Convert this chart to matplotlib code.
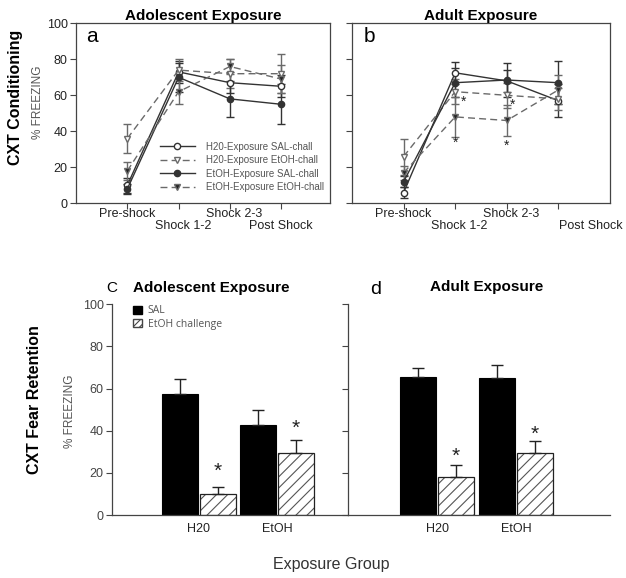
import matplotlib
matplotlib.use("Agg")
import matplotlib.pyplot as plt
import matplotlib.transforms as mtransforms
from matplotlib.patches import Patch
from matplotlib.lines import Line2D
import numpy as np

plt.rcParams['font.family'] = ['Liberation Sans', 'DejaVu Sans']
plt.rcParams['hatch.linewidth'] = 0.8

# ---------------- data ----------------
phases = ["Pre-shock", "Shock 1-2", "Shock 2-3", "Post Shock"]
series_names = ["H20-Exposure SAL-chall", "H20-Exposure EtOH-chall",
                "EtOH-Exposure SAL-chall", "EtOH-Exposure EtOH-chall"]

adol_h20_sal = [10, 73, 67, 65]
adol_h20_sal_err = [4, 6, 6, 6]
adol_h20_etoh = [36, 74, 72, 72]
adol_h20_etoh_err = [8, 6, 8, 11]
adol_etoh_sal = [8, 70, 58, 55]
adol_etoh_sal_err = [3, 8, 10, 11]
adol_etoh_etoh = [18, 62, 76, 69]
adol_etoh_etoh_err = [5, 7, 4, 8]

adult_h20_sal = [6, 72.5, 68, 57]
adult_h20_sal_err = [3, 6, 6, 9]
adult_h20_etoh = [26, 62, 60, 58]
adult_h20_etoh_err = [10, 7, 7, 6]
adult_etoh_sal = [12, 67, 68.5, 67]
adult_etoh_sal_err = [3, 8, 9.5, 12]
adult_etoh_etoh = [17, 48, 46, 63]
adult_etoh_etoh_err = [4, 11, 8.4, 8]

groups = ["H20", "EtOH"]
retention_labels = ["SAL", "EtOH challenge"]
adol_sal = [57.3, 42.7]
adol_sal_err = [7.2, 7.1]
adol_etoh = [9.8, 29.4]
adol_etoh_err = [3.6, 6.2]
adult_sal = [65.6, 65.2]
adult_sal_err = [4.4, 6.1]
adult_etoh = [18.2, 29.4]
adult_etoh_err = [5.4, 5.7]

W, H = 626, 578
fig = plt.figure(figsize=(W / 100, H / 100), dpi=100)


def frac(x0, y0, x1, y1):
    return [x0 / W, 1 - y1 / H, (x1 - x0) / W, (y1 - y0) / H]


SOLID = '#333333'
DASH = '#6a6a6a'
styles = [
    dict(color=SOLID, ls='-', marker='o', mfc='white'),
    dict(color=DASH, ls=(0, (5, 3)), marker='v', mfc='white'),
    dict(color=SOLID, ls='-', marker='o', mfc=SOLID),
    dict(color=DASH, ls=(0, (5, 3)), marker='v', mfc='#222222'),
]


def line_panel(ax, data, show_labels, post_x):
    x = np.arange(len(phases))
    for (vals, errs), st in zip(data, styles):
        ax.errorbar(x, vals, yerr=errs, color=st['color'], ls=st['ls'],
                    marker=st['marker'], mfc=st['mfc'], mec=st['color'],
                    ms=4.5, lw=1.0, elinewidth=1.0, capsize=3, capthick=1.0)
    ax.set_xlim(-1.0, 3.95)
    ax.set_ylim(0, 100)
    ax.set_xticks(x)
    ax.set_xticklabels([])
    ax.set_yticks(np.arange(0, 101, 20))
    if not show_labels:
        ax.set_yticklabels([])
    ax.tick_params(direction='out', length=4, width=0.8, colors='#444444',
                   labelsize=9, labelcolor='#222222', pad=2)
    for s in ax.spines.values():
        s.set_color('#444444')
        s.set_linewidth(0.9)
    tr = mtransforms.blended_transform_factory(ax.transData, ax.transAxes)
    lab_x = [0, 1.08, 2.08, post_x]
    lab_y = [-0.057, -0.128, -0.057, -0.128]
    for lx, ly, t in zip(lab_x, lab_y, phases):
        ax.text(lx, ly, t, transform=tr, ha='center', va='center',
                fontsize=9, color='#222222')


# ---------------- panel a ----------------
ax_a = fig.add_axes(frac(76, 23.3, 330, 203.3))
line_panel(ax_a, [(adol_h20_sal, adol_h20_sal_err), (adol_h20_etoh, adol_h20_etoh_err),
                  (adol_etoh_sal, adol_etoh_sal_err), (adol_etoh_etoh, adol_etoh_etoh_err)],
           True, 3.0)
ax_a.text(0.04, 0.925, 'a', transform=ax_a.transAxes, fontsize=15,
          ha='left', va='center')
handles = [Line2D([], [], color=st['color'], ls=st['ls'], marker=st['marker'],
                  mfc=st['mfc'], mec=st['color'], ms=4.5, lw=1.0) for st in styles]
leg = ax_a.legend(handles, series_names, loc='lower right',
                  bbox_to_anchor=(1.0, 0.03), frameon=False, fontsize=7,
                  handlelength=3.6, labelspacing=0.35, handletextpad=1.2,
                  borderaxespad=0.2)
for t in leg.get_texts():
    t.set_color('#555555')
ax_a.set_title('Adolescent Exposure', fontsize=11, fontweight='bold', pad=2)

# ---------------- panel b ----------------
ax_b = fig.add_axes(frac(352, 23.3, 610, 203.3))
line_panel(ax_b, [(adult_h20_sal, adult_h20_sal_err), (adult_h20_etoh, adult_h20_etoh_err),
                  (adult_etoh_sal, adult_etoh_sal_err), (adult_etoh_etoh, adult_etoh_etoh_err)],
           False, 3.62)
ax_b.set_xlim(-1.0, 4.0)
ax_b.text(0.045, 0.925, 'b', transform=ax_b.transAxes, fontsize=15,
          ha='left', va='center')
for sx, sy in [(1.16, 56.5), (1.0, 33.5), (2.12, 55), (2.0, 32)]:
    ax_b.text(sx, sy, '*', fontsize=10, ha='center', va='center', color='#222222')
ax_b.set_title('Adult Exposure', fontsize=11, fontweight='bold', pad=2)

fig.text(16 / W, 1 - 97 / H, 'CXT Conditioning', rotation=90, fontsize=11.5,
         fontweight='bold', ha='center', va='center')
fig.text(38 / W, 1 - 102 / H, '% FREEZING', rotation=90, fontsize=8.5,
         color='#555555', ha='center', va='center')


# ---------------- bar panels ----------------
def bar_panel(ax, sal, sal_err, etoh, etoh_err, xlim, star_y):
    x = np.arange(len(groups))
    off, w = 0.24, 0.46
    ax.bar(x - off, sal, w, color='black', edgecolor='black', lw=0.8)
    ax.errorbar(x - off, sal, yerr=[np.zeros(len(sal)), sal_err], fmt='none',
                ecolor='#222222', elinewidth=1.0, capsize=4.5, capthick=1.0)
    ax.bar(x + off, etoh, w, color='white', edgecolor='#555555', hatch='///', lw=0)
    ax.bar(x + off, etoh, w, color='none', edgecolor='#222222', lw=0.9)
    ax.errorbar(x + off, etoh, yerr=[np.zeros(len(etoh)), etoh_err], fmt='none',
                ecolor='#222222', elinewidth=1.0, capsize=4.5, capthick=1.0)
    for xi, sy in zip(x + off, star_y):
        ax.text(xi, sy, '*', fontsize=15, ha='center', va='center', color='#222222')
    ax.set_xlim(*xlim)
    ax.set_ylim(0, 100)
    ax.set_xticks(x)
    ax.set_xticklabels(groups)
    ax.set_yticks(np.arange(0, 101, 20))
    ax.tick_params(axis='x', length=0, labelsize=9, pad=6, labelcolor='#222222')
    ax.tick_params(axis='y', direction='out', length=4, width=0.8,
                   colors='#444444', labelsize=9, labelcolor='#444444', pad=2)
    for k in ('top', 'right'):
        ax.spines[k].set_visible(False)
    for k in ('left', 'bottom'):
        ax.spines[k].set_color('#444444')
        ax.spines[k].set_linewidth(0.9)


ax_c = fig.add_axes(frac(112, 304.3, 348, 515))
bar_panel(ax_c, adol_sal, adol_sal_err, adol_etoh, adol_etoh_err,
          (-1.115, 1.91), [20.5, 41])
leg_c = ax_c.legend([Patch(facecolor='black', edgecolor='black'),
                     Patch(facecolor='white', edgecolor='#444444', hatch='/////')],
                    retention_labels, loc='upper left', bbox_to_anchor=(0.05, 1.04),
                    frameon=False, handlelength=0.8, handleheight=0.8,
                    handletextpad=0.6, labelspacing=0.25,
                    prop={'family': 'Open Sans', 'size': 7.5})
for t in leg_c.get_texts():
    t.set_color('#555555')
fig.text(112 / W, 1 - 288 / H, 'C', fontsize=11, ha='center', va='center')
fig.text(211 / W, 1 - 288 / H, 'Adolescent Exposure', fontsize=11,
         fontweight='bold', ha='center', va='center')

ax_d = fig.add_axes(frac(348, 304.3, 610, 515))
bar_panel(ax_d, adult_sal, adult_sal_err, adult_etoh, adult_etoh_err,
          (-1.127, 2.19), [28, 38.5])
ax_d.set_yticklabels([])
fig.text(376 / W, 1 - 290 / H, 'd', fontsize=14, ha='center', va='center')
fig.text(487 / W, 1 - 287 / H, 'Adult Exposure', fontsize=11,
         fontweight='bold', ha='center', va='center')

fig.text(35 / W, 1 - 400 / H, 'CXT Fear Retention', rotation=90, fontsize=11.5,
         fontweight='bold', ha='center', va='center')
fig.text(70 / W, 1 - 411 / H, '% FREEZING', rotation=90, fontsize=8.5,
         color='#555555', ha='center', va='center')
fig.text(331 / W, 1 - 565 / H, 'Exposure Group', fontsize=11.5,
         color='#333333', ha='center', va='center')

fig.savefig('out.png', dpi=100)
